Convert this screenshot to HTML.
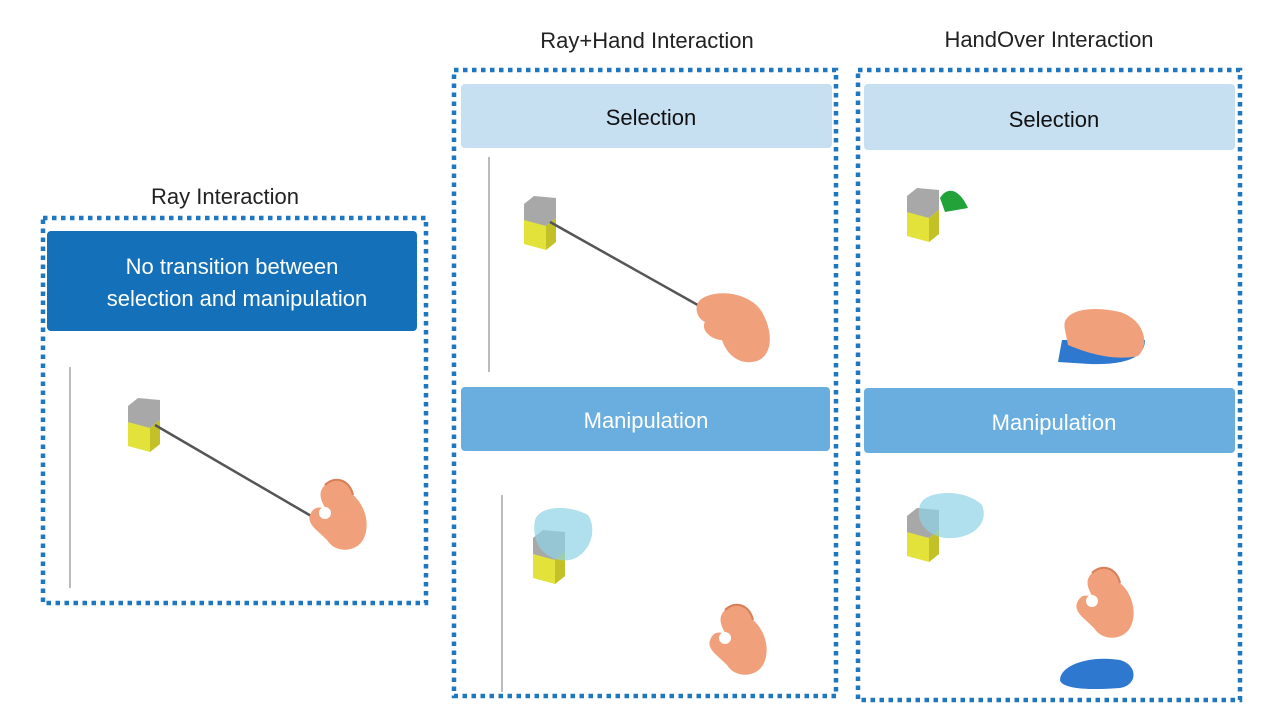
<!DOCTYPE html>
<html><head><meta charset="utf-8"><style>
html,body{margin:0;padding:0;background:#fff;}
svg{display:block;}
text{font-family:"Liberation Sans","DejaVu Sans",sans-serif;}
</style></head><body>
<svg width="1280" height="720" viewBox="0 0 1280 720" xmlns="http://www.w3.org/2000/svg">
<defs>
<g id="cube">
<polygon points="0,8 10,0 32,2 32,22 22,30 0,26" fill="#a8a8a8"/>
<polygon points="0,24 22,30 32,22 32,46 22,54 0,48" fill="#e2e23a"/>
<polygon points="22,30 32,22 32,46 22,54" fill="#c2c228"/>
</g>
<g id="pinch">
<path d="M20,10 C30,0 45,5 48,20 C60,30 66,50 58,65 C50,78 30,78 22,65 C12,55 0,48 6,38 C10,30 18,32 22,36 C16,26 12,18 20,10 Z" fill="#f0a07a"/>
<circle cx="20" cy="38" r="6" fill="#fff"/>
<path d="M20,10 C30,0 45,5 48,20" fill="none" stroke="#d87e5a" stroke-width="2"/>
</g>
</defs>

<!-- titles -->
<text x="225" y="204" font-size="22" text-anchor="middle" fill="#222">Ray Interaction</text>
<text x="647" y="48" font-size="22" text-anchor="middle" fill="#222">Ray+Hand Interaction</text>
<text x="1049" y="47" font-size="22" text-anchor="middle" fill="#222">HandOver Interaction</text>

<!-- dotted boxes -->
<g fill="none" stroke="#1f77c0" stroke-width="4.5" stroke-dasharray="4.5 4.5">
<rect x="43" y="218" width="383" height="385"/>
<rect x="454" y="70" width="382" height="626"/>
<rect x="858" y="70" width="382" height="630"/>
</g>

<!-- box1 -->
<rect x="47" y="231" width="370" height="100" rx="4" fill="#1470b8"/>
<text x="232" y="274" font-size="22" text-anchor="middle" fill="#fff">No transition between</text>
<text x="237" y="306" font-size="22" text-anchor="middle" fill="#fff">selection and manipulation</text>
<line x1="70" y1="367" x2="70" y2="588" stroke="#bbb" stroke-width="2"/>
<use href="#cube" x="128" y="398"/>
<line x1="155" y1="425" x2="318" y2="520" stroke="#555" stroke-width="2.5"/>
<use href="#pinch" x="305" y="475"/>

<!-- box2 -->
<rect x="461" y="84" width="371" height="64" rx="4" fill="#c6dff1"/>
<text x="651" y="125" font-size="22" text-anchor="middle" fill="#111">Selection</text>
<line x1="489" y1="157" x2="489" y2="372" stroke="#bbb" stroke-width="2"/>
<use href="#cube" x="524" y="196"/>
<line x1="550" y1="222" x2="712" y2="313" stroke="#555" stroke-width="2.5"/>
<path d="M700,300 C715,288 750,292 762,312 C775,335 772,360 752,362 C735,364 725,350 722,340 C712,340 700,330 705,322 C696,318 694,306 700,300 Z" fill="#f0a07a"/>
<rect x="461" y="387" width="369" height="64" rx="4" fill="#6aaedf"/>
<text x="646" y="428" font-size="22" text-anchor="middle" fill="#fff">Manipulation</text>
<line x1="502" y1="495" x2="502" y2="692" stroke="#bbb" stroke-width="2"/>
<use href="#cube" x="533" y="530"/>
<path d="M535,520 C540,505 570,505 588,515 C598,530 590,555 570,560 C550,563 530,548 535,520 Z" fill="#8fd3e6" opacity="0.7"/>
<use href="#pinch" x="705" y="600"/>

<!-- box3 -->
<rect x="864" y="84" width="371" height="66" rx="4" fill="#c6dff1"/>
<text x="1054" y="127" font-size="22" text-anchor="middle" fill="#111">Selection</text>
<use href="#cube" x="907" y="188"/>
<path d="M940,198 C948,185 960,190 968,208 L945,212 Z" fill="#22a33a"/>
<path d="M1062,340 L1145,340 C1145,360 1120,365 1090,364 L1058,362 Z" fill="#2f78d0"/>
<path d="M1065,330 C1060,310 1090,305 1120,312 C1145,320 1150,345 1138,356 C1110,362 1080,350 1068,345 Z" fill="#f0a07a"/>
<rect x="864" y="388" width="371" height="65" rx="4" fill="#6aaedf"/>
<text x="1054" y="430" font-size="22" text-anchor="middle" fill="#fff">Manipulation</text>
<use href="#cube" x="907" y="508"/>
<path d="M920,505 C925,490 965,488 982,505 C990,525 970,540 945,538 C925,535 915,520 920,505 Z" fill="#8fd3e6" opacity="0.7"/>
<use href="#pinch" x="1072" y="563"/>
<path d="M1060,680 C1060,665 1090,655 1120,660 C1138,665 1138,685 1120,688 C1095,690 1062,690 1060,680 Z" fill="#2f78d0"/>
</svg>
</body></html>
